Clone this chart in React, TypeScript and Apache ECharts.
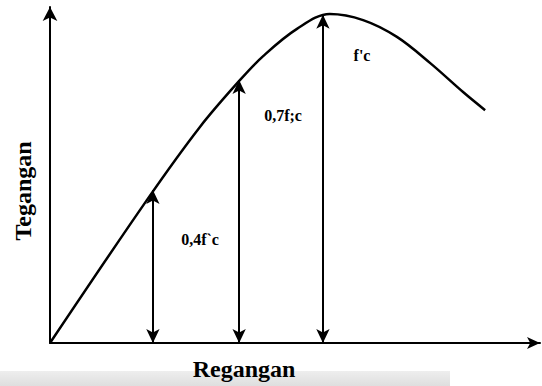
import React, { useEffect, useRef } from "react";
import * as echarts from "echarts";

// Stress–strain curve (relative units, 0..100)
const strainValues = [0, 19.8, 30.6, 38.8, 43.5, 50.4, 57.1, 63.9, 70.8, 77.6, 84.3, 88.8];
const stressValues = [0, 42.6, 64.3, 78.3, 85.4, 93.5, 97.9, 96.1, 91.1, 83.3, 74.7, 69.3];

// Double-headed marker arrows
const arrowStrain = [21.0, 38.6, 55.7];
const arrowStress = [45.5, 78.3, 97.7];
const arrowLabels = ["0,4f`c", "0,7f;c", "f'c"];

const xAxisTitle = "Regangan";
const yAxisTitle = "Tegangan";

export default function App() {
  const ref = useRef<HTMLDivElement>(null);
  useEffect(() => {
    if (!ref.current) return;
    const chart = echarts.init(ref.current, undefined, { renderer: "svg" });
    const font = "'Liberation Serif', 'DejaVu Serif', serif";
    const labelPos = [
      [200, 239],
      [283, 115],
      [362, 55],
    ];
    chart.setOption({
      animation: false,
      backgroundColor: "#ffffff",
      grid: { left: 50, right: 2, top: 7, bottom: 43 },
      xAxis: {
        type: "value",
        min: 0,
        max: 100,
        axisLine: {
          show: true,
          onZero: false,
          symbol: ["none", "arrow"],
          symbolSize: [9, 13],
          lineStyle: { color: "#000", width: 2 },
        },
        axisTick: { show: false },
        axisLabel: { show: false },
        splitLine: { show: false },
      },
      yAxis: {
        type: "value",
        min: 0,
        max: 100,
        axisLine: {
          show: true,
          onZero: false,
          symbol: ["none", "arrow"],
          symbolSize: [11, 14],
          lineStyle: { color: "#000", width: 2 },
        },
        axisTick: { show: false },
        axisLabel: { show: false },
        splitLine: { show: false },
      },
      series: [
        {
          type: "line",
          data: strainValues.map((x, i) => [x, stressValues[i]]),
          smooth: 0.35,
          showSymbol: false,
          lineStyle: { color: "#000", width: 2.5 },
          silent: true,
          markLine: {
            silent: true,
            symbol: ["arrow", "arrow"],
            symbolSize: [10, 14],
            label: { show: false },
            lineStyle: { color: "#000", width: 2, type: "solid" },
            data: arrowStrain.map((x, i) => [
              { coord: [x, 0] },
              { coord: [x, arrowStress[i]] },
            ]),
          },
        },
      ],
      graphic: [
        {
          type: "rect",
          z: -10,
          shape: { x: 0, y: 371, width: 450, height: 15 },
          style: {
            fill: new echarts.graphic.LinearGradient(0, 0, 0, 1, [
              { offset: 0, color: "#eeeeee" },
              { offset: 1, color: "#dedede" },
            ]),
          },
        },
        ...arrowLabels.map((t, i) => ({
          type: "text",
          x: labelPos[i][0],
          y: labelPos[i][1],
          style: {
            text: t,
            fill: "#000",
            font: `bold 16px ${font}`,
            align: "center",
            verticalAlign: "middle",
          },
        })),
        {
          type: "text",
          x: 244,
          y: 369,
          style: {
            text: xAxisTitle,
            fill: "#000",
            font: `bold 24px ${font}`,
            align: "center",
            verticalAlign: "middle",
          },
        },
        {
          type: "text",
          x: 23,
          y: 191,
          rotation: Math.PI / 2,
          style: {
            text: yAxisTitle,
            fill: "#000",
            font: `bold 24px ${font}`,
            align: "center",
            verticalAlign: "middle",
          },
        },
      ],
    });
    return () => chart.dispose();
  }, []);
  return (
    <div
      ref={ref}
      style={{ position: "fixed", left: 0, top: 0, width: 542, height: 386 }}
    />
  );
}
